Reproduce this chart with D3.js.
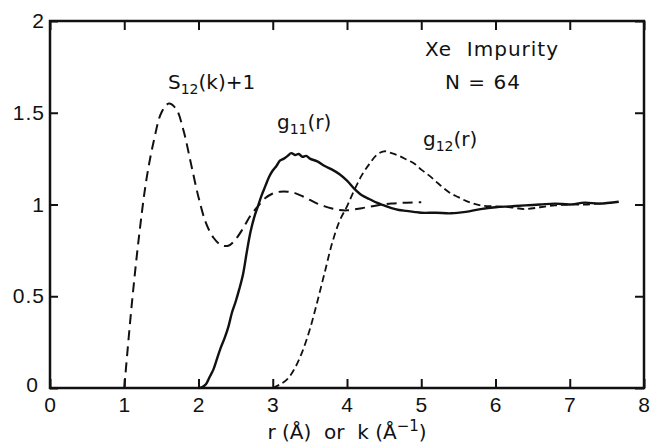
<!DOCTYPE html>
<html>
<head>
<meta charset="utf-8">
<script src="https://cdn.jsdelivr.net/npm/d3@7.9.0/dist/d3.min.js"></script>
<style>
  body { margin: 0; background: #fff; }
  svg { display: block; font-family: "DejaVu Sans", sans-serif; }
  .tick line { stroke: #111; stroke-width: 2; }
  .tick text { fill: #111; font-size: 21px; letter-spacing: 1px; }
</style>
</head>
<body>
<svg id="chart" width="655" height="444"></svg>
<script>
// S12(k)+1, long dashes
const s12X = [1.0, 1.1, 1.2, 1.3, 1.4, 1.5, 1.6, 1.7, 1.8, 1.9, 2.0, 2.1, 2.2, 2.3, 2.4, 2.5, 2.6, 2.7, 2.8, 2.9,
  3.0, 3.1, 3.2, 3.3, 3.4, 3.5, 3.6, 3.7, 3.8, 3.9, 4.0, 4.2, 4.4, 4.6, 4.8, 5.0];
const s12Y = [0.0, 0.45, 0.83, 1.14, 1.35, 1.50, 1.55, 1.52, 1.40, 1.22, 1.04, 0.90, 0.82, 0.78, 0.775, 0.81, 0.87, 0.94, 0.99, 1.035,
  1.06, 1.07, 1.07, 1.062, 1.045, 1.025, 1.005, 0.99, 0.978, 0.97, 0.968, 0.98, 0.995, 1.005, 1.01, 1.012];

// g11(r), solid
const g11X = [2.0, 2.05, 2.1, 2.15, 2.2, 2.25, 2.3, 2.35, 2.4, 2.45, 2.5, 2.55, 2.6, 2.65, 2.7, 2.75, 2.8, 2.85, 2.9, 2.95,
  3.0, 3.05, 3.1, 3.15, 3.2, 3.25, 3.3, 3.35, 3.4, 3.45, 3.5, 3.6, 3.7, 3.8, 3.9, 4.0, 4.1, 4.2, 4.3, 4.4,
  4.5, 4.6, 4.7, 4.8, 4.9, 5.0, 5.2, 5.4, 5.6, 5.8, 6.0, 6.2, 6.4, 6.6, 6.8, 7.0, 7.2, 7.4, 7.66];
const g11Y = [0.0, 0.005, 0.02, 0.06, 0.10, 0.16, 0.22, 0.27, 0.33, 0.41, 0.47, 0.54, 0.62, 0.74, 0.85, 0.93, 0.99, 1.05, 1.10, 1.15,
  1.185, 1.21, 1.24, 1.25, 1.265, 1.28, 1.27, 1.275, 1.26, 1.265, 1.25, 1.235, 1.21, 1.19, 1.165, 1.13, 1.085, 1.05, 1.03, 1.01,
  0.995, 0.98, 0.97, 0.965, 0.96, 0.955, 0.955, 0.952, 0.96, 0.975, 0.985, 0.99, 0.995, 1.0, 1.005, 1.0, 1.01, 1.005, 1.015];

// g12(r), short dashes
const g12X = [3.0, 3.1, 3.2, 3.3, 3.4, 3.5, 3.6, 3.7, 3.8, 3.9, 4.0, 4.1, 4.2, 4.3, 4.4, 4.5, 4.6, 4.7, 4.8, 4.9,
  5.0, 5.1, 5.2, 5.3, 5.4, 5.5, 5.6, 5.7, 5.8, 6.0, 6.2, 6.4, 6.6, 6.8, 7.0, 7.2, 7.4, 7.6];
const g12Y = [0.0, 0.02, 0.05, 0.11, 0.20, 0.32, 0.47, 0.63, 0.79, 0.91, 0.99, 1.08, 1.16, 1.22, 1.27, 1.29, 1.28, 1.265, 1.245, 1.225,
  1.19, 1.16, 1.125, 1.09, 1.06, 1.04, 1.02, 1.005, 0.995, 0.99, 0.985, 0.975, 0.985, 0.995, 1.0, 1.0, 1.005, 1.01];

const xTicks = [0, 1, 2, 3, 4, 5, 6, 7, 8];
const yTicks = [0, 0.5, 1, 1.5, 2];
const yTickLabels = ["0", "0.5", "1", "1.5", "2"];

const svg = d3.select("#chart");
const margin = { top: 21, right: 11, bottom: 56, left: 50 };
const width = +svg.attr("width") - margin.left - margin.right;
const height = +svg.attr("height") - margin.top - margin.bottom;
const g = svg.append("g").attr("transform", `translate(${margin.left},${margin.top})`);

const x = d3.scaleLinear().domain([0, 8]).range([0, width]);
const y = d3.scaleLinear().domain([0, 2]).range([height, 0]);

// ticks point inward on all four sides
g.append("g")
  .attr("transform", `translate(0,${height})`)
  .call(d3.axisBottom(x).tickValues(xTicks).tickSize(-9).tickPadding(8).tickFormat(d3.format("d")))
  .call(a => a.select(".domain").remove())
  .call(a => a.selectAll(".tick text").attr("dy", "0.75em"));
g.append("g")
  .call(d3.axisTop(x).tickValues(xTicks).tickSize(-9).tickFormat(""))
  .call(a => a.select(".domain").remove());
g.append("g")
  .call(d3.axisLeft(y).tickValues(yTicks).tickSize(-8).tickPadding(5).tickFormat((d, i) => yTickLabels[i]))
  .call(a => a.select(".domain").remove())
  .call(a => a.selectAll(".tick text").filter(d => d === 0).attr("x", -11).attr("dy", "0.15em"));
g.append("g")
  .attr("transform", `translate(${width},0)`)
  .call(d3.axisRight(y).tickValues(yTicks).tickSize(-9).tickFormat(""))
  .call(a => a.select(".domain").remove());

g.append("rect")
  .attr("width", width)
  .attr("height", height)
  .attr("fill", "none")
  .attr("stroke", "#111")
  .attr("stroke-width", 2.5);

const line = d3.line()
  .x(d => x(d[0]))
  .y(d => y(d[1]))
  .curve(d3.curveCatmullRom.alpha(0.5));

g.append("path")
  .datum(d3.zip(s12X, s12Y))
  .attr("fill", "none")
  .attr("stroke", "#111")
  .attr("stroke-width", 2)
  .attr("stroke-dasharray", "10 6")
  .attr("d", line);

g.append("path")
  .datum(d3.zip(g12X, g12Y))
  .attr("fill", "none")
  .attr("stroke", "#111")
  .attr("stroke-width", 1.8)
  .attr("stroke-dasharray", "7 4")
  .attr("d", line);

g.append("path")
  .datum(d3.zip(g11X, g11Y))
  .attr("fill", "none")
  .attr("stroke", "#111")
  .attr("stroke-width", 2.4)
  .attr("d", line);

// labels
const txt = svg.append("g").attr("fill", "#111");

const s12 = txt.append("text").attr("x", 168).attr("y", 89).attr("font-size", 20);
s12.append("tspan").text("S");
s12.append("tspan").attr("font-size", 14).attr("dy", 5).text("12");
s12.append("tspan").attr("dy", -5).text("(k)+1");

const g11 = txt.append("text").attr("x", 277).attr("y", 129).attr("font-size", 20);
g11.append("tspan").text("g");
g11.append("tspan").attr("font-size", 14).attr("dy", 5).text("11");
g11.append("tspan").attr("dy", -5).text("(r)");

const g12 = txt.append("text").attr("x", 423).attr("y", 146).attr("font-size", 20);
g12.append("tspan").text("g");
g12.append("tspan").attr("font-size", 14).attr("dy", 5).text("12");
g12.append("tspan").attr("dy", -5).text("(r)");

txt.append("text").attr("x", 492).attr("y", 56).attr("font-size", 20).style("letter-spacing", "1px")
  .attr("text-anchor", "middle").attr("xml:space", "preserve").text("Xe  Impurity");
txt.append("text").attr("x", 483).attr("y", 89).attr("font-size", 20).style("letter-spacing", "1px")
  .attr("text-anchor", "middle").text("N = 64");

const xl = txt.append("text").attr("x", margin.left + width / 2).attr("y", 439)
  .attr("font-size", 20).attr("text-anchor", "middle").attr("xml:space", "preserve");
xl.append("tspan").text("r (Å)  or  k (Å");
xl.append("tspan").attr("font-size", 15).attr("dy", -8).text("−1");
xl.append("tspan").attr("dy", 8).text(")");
</script>
</body>
</html>
